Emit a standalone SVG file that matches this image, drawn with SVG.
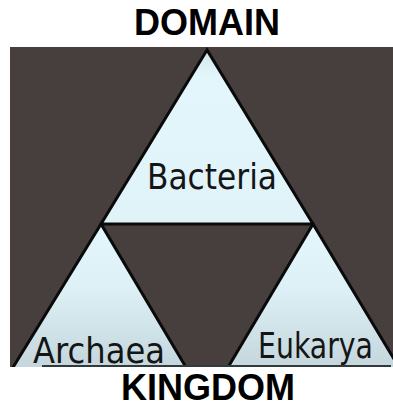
<svg xmlns="http://www.w3.org/2000/svg" width="393" height="406" viewBox="0 0 393 406">
<style>
.tri{stroke:#0a0a0a;stroke-width:3;stroke-linejoin:miter}
.top{fill:url(#gt)}
.low{fill:url(#g)}
.title{font-family:"Liberation Sans",Arial,sans-serif;font-weight:bold;font-size:36px;fill:#000;text-anchor:middle}
.lbl{font-family:"DejaVu Sans","Liberation Sans",sans-serif;font-size:36px;fill:#151515}
</style>
<defs>
<linearGradient id="gt" x1="0" y1="0" x2="0" y2="1">
<stop offset="0" stop-color="#d2e6ea"/>
<stop offset="0.15" stop-color="#e2f6fb"/>
<stop offset="1" stop-color="#e0f3f9"/>
</linearGradient>
<linearGradient id="g" x1="0" y1="0" x2="0" y2="1">
<stop offset="0" stop-color="#e3f7fc"/>
<stop offset="0.45" stop-color="#dcf0f6"/>
<stop offset="1" stop-color="#c4d6dc"/>
</linearGradient>
</defs>
<rect x="0" y="0" width="393" height="406" fill="#fff"/>
<rect id="background" x="10" y="47" width="383" height="320" fill="#463f3e"/>
<text class="title" x="207" y="35">DOMAIN</text>
<g id="bacteria">
<polygon class="tri top" points="207,50 101,224 313,224"/>
<text class="lbl" x="147" y="189" textLength="130" lengthAdjust="spacingAndGlyphs">Bacteria</text>
</g>
<g id="archaea">
<polygon class="tri low" points="101,224 12,369 187,369"/>
<text class="lbl" x="33" y="363" textLength="132" lengthAdjust="spacingAndGlyphs">Archaea</text>
</g>
<g id="eukarya">
<polygon class="tri low" points="313,224 227,369 400,369"/>
<text class="lbl" x="258" y="358" textLength="115" lengthAdjust="spacingAndGlyphs">Eukarya</text>
</g>
<rect x="0" y="367" width="393" height="39" fill="#fff"/>
<g id="connectors">
<line x1="42" y1="366" x2="391" y2="366" stroke="#2f3a3c" stroke-width="2"/>
</g>
<text class="title" x="208" y="400">KINGDOM</text>
</svg>
